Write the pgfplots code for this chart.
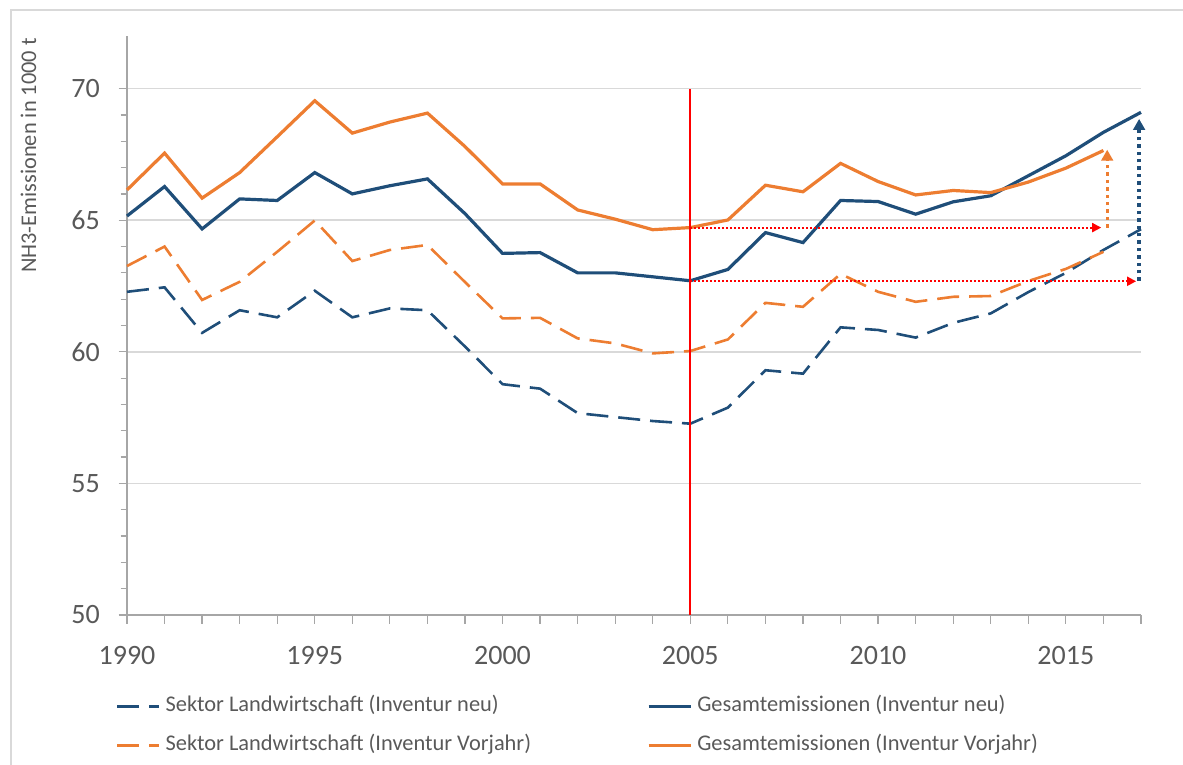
\documentclass[border=0pt]{standalone}
\usepackage{fontspec}
\setmainfont{Carlito}
\usepackage{pgfplots}
\usepackage{pgfplotstable}
\pgfplotsset{compat=1.18}
\usetikzlibrary{arrows.meta}
\definecolor{cblue}{HTML}{1F4E79}
\definecolor{corange}{HTML}{ED7D31}
\definecolor{txt}{HTML}{595959}
\definecolor{axgray}{HTML}{A6A6A6}
\definecolor{gridgray}{HTML}{D9D9D9}

\pgfplotstableread{
year bd    bs    od    os
1990 62.28 65.16 63.26 66.15
1991 62.45 66.28 64.00 67.55
1992 60.72 64.67 61.97 65.84
1993 61.58 65.81 62.66 66.81
1994 61.31 65.75 63.80 68.17
1995 62.32 66.81 64.99 69.54
1996 61.31 66.00 63.45 68.31
1997 61.65 66.31 63.87 68.73
1998 61.58 66.57 64.06 69.07
1999 60.20 65.25 62.65 67.80
2000 58.77 63.74 61.27 66.38
2001 58.60 63.77 61.29 66.38
2002 57.67 63.00 60.51 65.39
2003 57.52 63.00 60.32 65.04
2004 57.37 62.85 59.94 64.64
2005 57.27 62.70 60.03 64.72
2006 57.88 63.13 60.47 65.01
2007 59.30 64.53 61.86 66.33
2008 59.17 64.15 61.71 66.08
2009 60.93 65.75 62.96 67.16
2010 60.83 65.71 62.28 66.47
2011 60.54 65.23 61.90 65.96
2012 61.10 65.70 62.09 66.13
2013 61.46 65.93 62.12 66.05
2014 62.27 66.69 62.69 66.45
2015 63.00 67.45 63.15 66.98
2016 63.87 68.34 63.80 67.65
2017 64.66 69.10 nan   nan
}\datatable

\begin{document}
\begin{tikzpicture}
\useasboundingbox (-63.5pt,-75pt) rectangle (528pt,307.5pt);
\draw[gridgray, line width=0.6pt] (-58pt,-90pt) -- (-58pt,302.5pt) -- (540pt,302.5pt);
\begin{axis}[
  at={(0pt,0pt)}, anchor=south west,
  width=507pt, height=289.5pt, scale only axis,
  xmin=1990, xmax=2017, ymin=50, ymax=72,
  axis x line*=bottom, axis y line*=left,
  axis line style={-, axgray, line width=0.6pt},
  xtick={1990,...,2017},
  xticklabels={1990,,,,,1995,,,,,2000,,,,,2005,,,,,2010,,,,,2015,,},
  ytick={50,55,...,70}, minor y tick num=4,
  ymajorgrids, grid style={gridgray, line width=0.75pt},
  tick align=outside, major tick length=4.25pt, minor tick length=3.25pt,
  tick style={axgray, line width=0.6pt},
  every tick label/.append style={font=\fontsize{14}{16}\selectfont, text=txt},
  xticklabel style={yshift=-8pt},
  yticklabel style={xshift=-5.8pt},
  /pgf/number format/assume math mode=true,
  ylabel={NH3-Emissionen in 1000 t},
  every axis y label/.style={at={(axis description cs:-0.0972,0.7936)}, rotate=90, anchor=center, font=\fontsize{11.2}{13}\selectfont, text=txt},
  clip=false,
  legend columns=2,
  legend cell align=left,
  legend image code/.code={\draw[#1] (0pt,0pt) -- (21pt,0pt);},
  legend style={draw=none, fill=none, at={(axis description cs:-0.01085,-0.1395)}, anchor=north west,
    inner sep=0pt, outer sep=0pt, font=\fontsize{11.2}{13}\selectfont, text=txt, row sep=9pt,
    /tikz/every even column/.append style={column sep=55.5pt},
    nodes={inner xsep=2.5pt, inner ysep=0pt, text height=8pt, text depth=2.5pt}},
]
\addplot[cblue, line width=1.3pt, dash pattern=on 11pt off 5pt] table[x=year, y=bd] {\datatable};
\addplot[cblue, line width=1.6pt] table[x=year, y=bs] {\datatable};
\addplot[corange, line width=1.3pt, dash pattern=on 11pt off 5pt] table[x=year, y=od] {\datatable};
\addplot[corange, line width=1.6pt] table[x=year, y=os] {\datatable};
\legend{Sektor Landwirtschaft (Inventur neu), Gesamtemissionen (Inventur neu), Sektor Landwirtschaft (Inventur Vorjahr), Gesamtemissionen (Inventur Vorjahr)}
\addplot[red, line width=1pt, forget plot] coordinates {(2005,50) (2005,70)};
\addplot[red, line width=1pt, dash pattern=on 1pt off 1pt, -{Triangle[length=4.5pt,width=4.5pt]}, forget plot] coordinates {(2005,64.72) (2015.94,64.72)};
\addplot[red, line width=1pt, dash pattern=on 1pt off 1pt, -{Triangle[length=4.5pt,width=4.5pt]}, forget plot] coordinates {(2005,62.68) (2016.87,62.68)};
\addplot[corange, line width=1.7pt, dash pattern=on 1.7pt off 2pt, -{Triangle[length=5.5pt,width=5.8pt]}, forget plot] coordinates {(2016.1,64.72) (2016.1,67.68)};
\addplot[cblue, line width=1.7pt, dash pattern=on 1.7pt off 2pt, -{Triangle[length=5.5pt,width=5.8pt]}, forget plot] coordinates {(2016.95,62.70) (2016.95,68.85)};
\end{axis}
\end{tikzpicture}
\end{document}
